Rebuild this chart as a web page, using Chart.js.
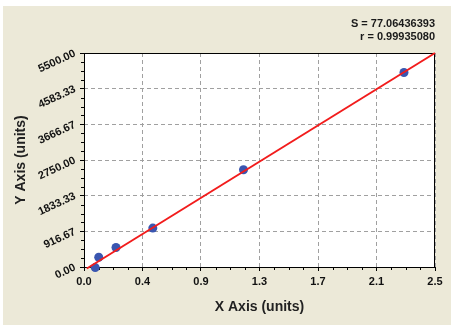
<!DOCTYPE html>
<html>
<head>
<meta charset="utf-8">
<script src="https://cdn.jsdelivr.net/npm/chart.js@4"></script>
<style>
  html, body { margin: 0; padding: 0; background: #ffffff; }
  #wrap { width: 453px; height: 329px; position: relative; }
</style>
</head>
<body>
<div id="wrap"><canvas id="c" width="453" height="329"></canvas></div>
<script>
// ---- data ----
const pointX = [0.08, 0.105, 0.228, 0.49, 1.136, 2.279];
const pointY = [-15, 250, 500, 1000, 2500, 5000];
const fitX = [0.02, 2.5];
const fitY = [-38, 5500];
const xTickValues = [0, 0.4167, 0.8333, 1.25, 1.6667, 2.0833, 2.5];
const xTickLabels = ['0.0', '0.4', '0.9', '1.3', '1.7', '2.1', '2.5'];
const yTickValues = [0, 916.67, 1833.33, 2750, 3666.67, 4583.33, 5500];
const yTickLabels = ['0.00', '916.67', '1833.33', '2750.00', '3666.67', '4583.33', '5500.00'];
const statLines = ['S = 77.06436393', 'r = 0.99935080'];
const xTitle = 'X Axis (units)';
const yTitle = 'Y Axis (units)';

const FONT = '"Liberation Sans", Arial, sans-serif';

const bgPlugin = {
  id: 'bg',
  beforeDraw(chart) {
    const ctx = chart.ctx;
    ctx.save();
    ctx.fillStyle = '#ffffff';
    ctx.fillRect(0, 0, chart.width, chart.height);
    ctx.fillStyle = '#ECE9D8';
    ctx.fillRect(3, 6, chart.width - 5, chart.height - 10);
    const a = chart.chartArea;
    ctx.fillStyle = '#ffffff';
    ctx.fillRect(a.left, a.top, a.right - a.left, a.bottom - a.top);
    ctx.restore();
  },
  beforeDatasetsDraw(chart) {
    const ctx = chart.ctx;
    const a = chart.chartArea;
    ctx.save();
    ctx.strokeStyle = '#000000';
    ctx.lineWidth = 1;
    ctx.strokeRect(Math.round(a.left) + 0.5, Math.round(a.top) + 0.5,
                   Math.round(a.right - a.left) - 1, Math.round(a.bottom - a.top));
    // minor ticks
    const xs = chart.scales.x, ys = chart.scales.y;
    ctx.beginPath();
    for (let i = 0; i < xTickValues.length - 1; i++) {
      for (let k = 1; k < 4; k++) {
        const v = xTickValues[i] + (xTickValues[i + 1] - xTickValues[i]) * k / 4;
        const px = Math.round(xs.getPixelForValue(v)) + 0.5;
        ctx.moveTo(px, a.bottom);
        ctx.lineTo(px, a.bottom + 3);
      }
    }
    for (let i = 0; i < yTickValues.length - 1; i++) {
      for (let k = 1; k < 4; k++) {
        const v = yTickValues[i] + (yTickValues[i + 1] - yTickValues[i]) * k / 4;
        const py = Math.round(ys.getPixelForValue(v)) + 0.5;
        ctx.moveTo(a.left, py);
        ctx.lineTo(a.left - 3, py);
      }
    }
    ctx.stroke();
    ctx.restore();
  },
  afterDraw(chart) {
    const ctx = chart.ctx;
    const a = chart.chartArea;
    ctx.save();
    ctx.fillStyle = '#1a1a1a';
    ctx.font = 'bold 11px ' + FONT;
    ctx.textAlign = 'right';
    ctx.textBaseline = 'middle';
    ctx.fillText(statLines[0], a.right, 23.5);
    ctx.fillText(statLines[1], a.right, 36.5);
    ctx.restore();
  }
};

new Chart(document.getElementById('c'), {
  type: 'scatter',
  data: {
    datasets: [
      {
        label: 'fit',
        data: fitX.map((x, i) => ({ x, y: fitY[i] })),
        showLine: true,
        borderColor: '#F21C1C',
        borderWidth: 2,
        pointRadius: 0,
        clip: false,
        order: 0
      },
      {
        label: 'points',
        data: pointX.map((x, i) => ({ x, y: pointY[i] })),
        showLine: false,
        backgroundColor: '#3A56B0',
        borderColor: '#3A56B0',
        borderWidth: 0,
        pointRadius: 4.5,
        clip: false,
        order: 1
      }
    ]
  },
  options: {
    responsive: false,
    animation: false,
    devicePixelRatio: 1,
    layout: { padding: { left: 0, top: 53, right: 18, bottom: 0 } },
    plugins: { legend: { display: false }, tooltip: { enabled: false } },
    scales: {
      x: {
        type: 'linear',
        min: 0, max: 2.5,
        afterBuildTicks: (s) => { s.ticks = xTickValues.map(v => ({ value: v })); },
        afterFit: (s) => { s.height = 62; },
        grid: {
          color: '#A0A0A0', lineWidth: 1, tickLength: 4, tickColor: '#000000',
          tickBorderDash: [], drawTicks: true
        },
        border: { display: false, dash: [4, 3] },
        ticks: {
          autoSkip: false, maxRotation: 0, minRotation: 0, padding: 4,
          color: '#111111',
          font: { family: FONT, size: 11, weight: 'bold' },
          callback: (v, i) => xTickLabels[i]
        },
        title: {
          display: true, text: xTitle, color: '#222222',
          font: { family: FONT, size: 14, weight: 'bold' },
          padding: { top: 0, bottom: 13 }
        }
      },
      y: {
        type: 'linear',
        min: 0, max: 5500,
        afterBuildTicks: (s) => { s.ticks = yTickValues.map(v => ({ value: v })); },
        afterFit: (s) => { s.width = 84; },
        grid: {
          color: '#A0A0A0', lineWidth: 1, tickLength: 4, tickColor: '#000000',
          tickBorderDash: [], drawTicks: true
        },
        border: { display: false, dash: [4, 3] },
        ticks: {
          autoSkip: false, minRotation: 25, maxRotation: 25, padding: 5,
          color: '#111111',
          font: { family: FONT, size: 11, weight: 'bold' },
          callback: (v, i) => yTickLabels[i]
        },
        title: {
          display: true, text: yTitle, color: '#222222',
          font: { family: FONT, size: 14, weight: 'bold' },
          padding: { top: 13, bottom: 0 }
        }
      }
    }
  },
  plugins: [bgPlugin]
});
</script>
</body>
</html>
